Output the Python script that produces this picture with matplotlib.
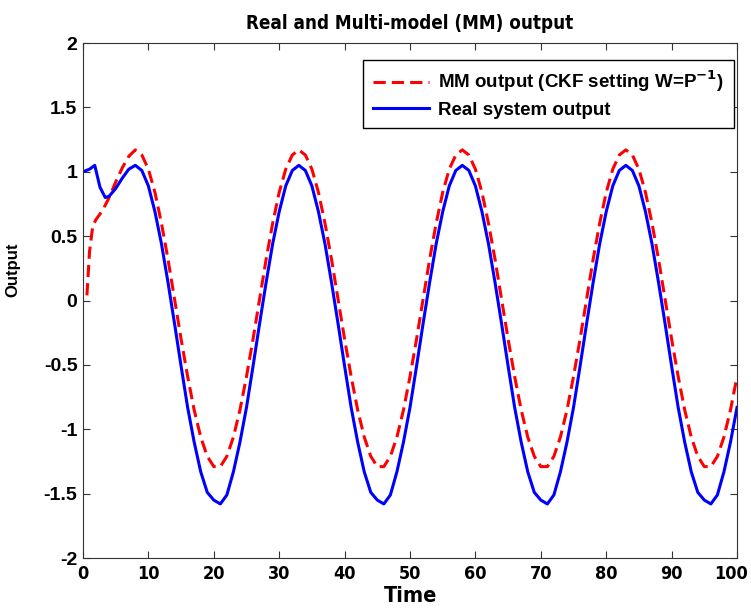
import matplotlib
matplotlib.use("Agg")
import matplotlib.pyplot as plt
from matplotlib import font_manager
from matplotlib.transforms import ScaledTranslation

plt.rcParams['axes.unicode_minus'] = False

# Temps d'echantillonnage : debut transitoire puis pas de 1
t_real = [0, 1, 1.8, 2.6, 3.4, 4, 5, 6, 7] + list(range(8, 101))
t_mm = [0.6, 1, 1.5, 2, 3, 4, 5, 6, 7] + list(range(8, 101))

# Sortie du systeme reel
real_start = [1.00, 1.02, 1.05, 0.88, 0.80, 0.81, 0.87, 0.95, 1.02]
real_cycle = [1.05, 1.01, 0.89, 0.69, 0.44, 0.14, -0.18, -0.51, -0.83, -1.10, -1.33, -1.49, -1.55,
              -1.58, -1.51, -1.33, -1.10, -0.83, -0.51, -0.18, 0.14, 0.44, 0.69, 0.89, 1.01]
real_end = [1.05, 1.01, 0.89, 0.69, 0.44, 0.14, -0.18, -0.51, -0.83, -1.10, -1.33, -1.49, -1.55,
            -1.58, -1.51, -1.33, -1.10, -0.83]
real_out = real_start + real_cycle * 3 + real_end

# Sortie multi-modele (CKF)
mm_start = [0.04, 0.38, 0.58, 0.63, 0.70, 0.80, 0.92, 1.03, 1.12]
mm_cycle = [1.17, 1.13, 1.02, 0.84, 0.60, 0.32, 0.01, -0.30, -0.59, -0.85, -1.06, -1.21, -1.29,
            -1.29, -1.21, -1.06, -0.85, -0.59, -0.30, 0.01, 0.32, 0.60, 0.84, 1.02, 1.13]
mm_end = [1.17, 1.13, 1.02, 0.84, 0.60, 0.32, 0.01, -0.30, -0.59, -0.85, -1.06, -1.21, -1.29,
          -1.29, -1.21, -1.06, -0.85, -0.59]
mm_out = mm_start + mm_cycle * 3 + mm_end

x_ticks = [0, 10, 20, 30, 40, 50, 60, 70, 80, 90, 100]
y_ticks = [-2, -1.5, -1, -0.5, 0, 0.5, 1, 1.5, 2]
y_labels = ['-2', '-1.5', '-1', '-0.5', '0', '0.5', '1', '1.5', '2']

arial = ['Liberation Sans', 'DejaVu Sans']

# police etroite en gras si disponible
narrow_font = None
for f in font_manager.fontManager.ttflist:
    if ('Narrow' in f.name or f.stretch in ('condensed', 'semi-condensed')) and f.weight in (600, 700, 'bold'):
        narrow_font = font_manager.FontProperties(fname=f.fname)
        break


def narrow(size):
    if narrow_font is not None:
        p = narrow_font.copy()
        p.set_size(size)
        return p
    return font_manager.FontProperties(family=arial, weight='bold', stretch='condensed', size=size - 2)


fig = plt.figure(figsize=(7.51, 6.12), dpi=100)
ax = fig.add_axes([0.1105, 0.0882, 0.8709, 0.8415])

ax.plot(t_mm, mm_out, color='red', linestyle=(0, (4, 2)), linewidth=2.2,
        label='MM output (CKF setting W=P$^{\\mathbf{-1}}$)')
ax.plot(t_real, real_out, color='blue', linewidth=2.2, label='Real system output')

ax.set_xlim(0, 100)
ax.set_ylim(-2, 2)
ax.set_xticks(x_ticks)
ax.set_xticklabels([str(v) for v in x_ticks], fontproperties=narrow(13))
ax.set_yticks(y_ticks)
ax.set_yticklabels(y_labels, family=arial, fontweight='bold', fontsize=14)
ax.tick_params(direction='in', top=True, right=True, length=5, color='#333333', pad=4)
ax.tick_params(axis='x', pad=5)
for s in ax.spines.values():
    s.set_color('#333333')

# le dernier label "100" deborde du bord droit : petit decalage
last = ax.get_xticklabels()[-1]
last.set_transform(last.get_transform() + ScaledTranslation(-4 / 72, 0, fig.dpi_scale_trans))

ax.set_title('Real and Multi-model (MM) output', fontproperties=narrow(13.5), pad=10)
ax.set_xlabel('Time', fontproperties=narrow(15.5), labelpad=2)
ax.set_ylabel('Output', family=arial, fontweight='bold', fontsize=12)
ax.yaxis.set_label_coords(-0.095, 0.56)

leg = ax.legend(loc='upper right', bbox_to_anchor=(0.995, 0.968), fancybox=False,
                edgecolor='black', framealpha=1, handlelength=3.0, labelspacing=0.4,
                borderpad=0.5, handletextpad=0.5,
                prop={'family': arial, 'weight': 'bold', 'size': 13.5}, borderaxespad=0)
leg.get_frame().set_linewidth(1.0)

fig.savefig('out.png', dpi=100)
